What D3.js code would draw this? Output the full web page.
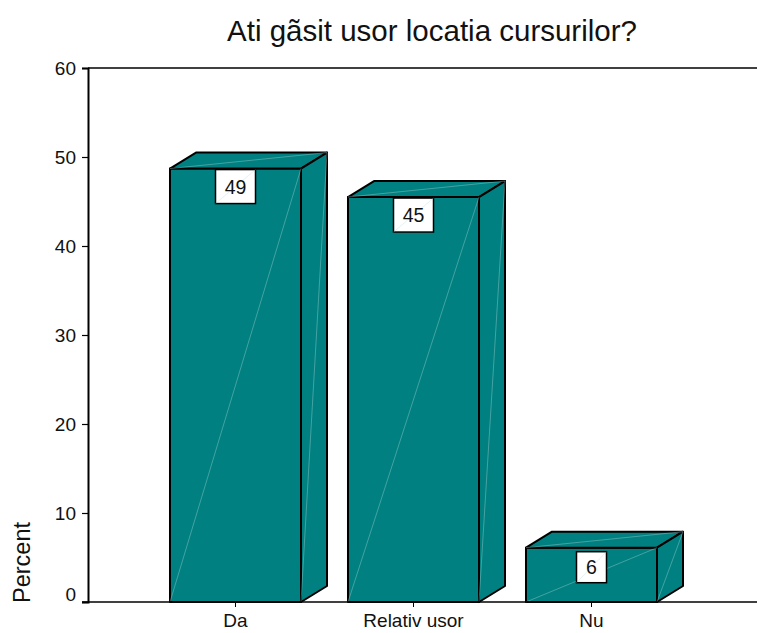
<!DOCTYPE html>
<html>
<head>
<meta charset="utf-8">
<style>
    body { margin: 0; background: #fff; }
    text { font-family: "Liberation Sans", Arial, sans-serif; fill: #111; }
    .axis path, .axis line { stroke: #000; }
</style>
</head>
<body>
<svg width="757" height="633"></svg>
<script src="https://d3js.org/d3.v7.min.js"></script>
<script>
    const categories = ["Da", "Relativ usor", "Nu"];
    const percents = [48.7, 45.5, 6.1];
    const labels = ["49", "45", "6"];
    const yTicks = [0, 10, 20, 30, 40, 50, 60];

    const svg = d3.select("svg"),
        depthX = 26,
        depthY = 16;

    const x = d3.scaleBand()
        .domain(categories)
        .range([146.5, 680.5])
        .paddingInner(0.264)
        .paddingOuter(0.132);

    const y = d3.scaleLinear()
        .domain([0, 60])
        .range([602, 68]);

    const teal = "#008080";
    const hi = "#b5dcdc"; // thin light diagonals left by the 3D facets

    const bars = svg.selectAll("g.bar")
        .data(categories)
        .enter()
        .append("g")
        .attr("class", "bar");

    function facet(sel, pts) {
        sel.append("path")
            .attr("d", d3.line()(pts) + "Z")
            .attr("fill", teal)
            .attr("stroke", "#000")
            .attr("stroke-width", 2)
            .attr("stroke-linejoin", "round");
    }

    function diag(sel, a, b) {
        sel.append("line")
            .attr("x1", a[0]).attr("y1", a[1])
            .attr("x2", b[0]).attr("y2", b[1])
            .attr("stroke", hi)
            .attr("stroke-width", 0.5)
            .attr("stroke-opacity", 0.75);
    }

    bars.each(function (d, i) {
        const g = d3.select(this),
            x0 = x(d),
            x1 = x0 + x.bandwidth(),
            top = y(percents[i]),
            base = y(0);

        // front, top, side
        facet(g, [[x0, base], [x0, top], [x1, top], [x1, base]]);
        facet(g, [[x0, top], [x0 + depthX, top - depthY], [x1 + depthX, top - depthY], [x1, top]]);
        facet(g, [[x1, base], [x1, top], [x1 + depthX, top - depthY], [x1 + depthX, base - depthY]]);

        diag(g, [x0, base], [x1, top]);
        diag(g, [x0, top], [x1 + depthX, top - depthY]);
        diag(g, [x1, base], [x1 + depthX, top - depthY]);

        // value label box hangs just under the front edge
        const cx = x0 + x.bandwidth() / 2,
            w = labels[i].length > 1 ? 40 : 30,
            h = labels[i].length > 1 ? 34 : 31,
            by = i === 2 ? top + 4 : top + 1;

        g.append("rect")
            .attr("x", cx - w / 2)
            .attr("y", by)
            .attr("width", w)
            .attr("height", h)
            .attr("fill", "#fff")
            .attr("stroke", "#000")
            .attr("stroke-width", 1.5);

        // the facet diagonal shows through the white box
        diag(g, [cx - w / 2, by + h], [cx + w / 2, by]);

        g.append("text")
            .attr("x", cx)
            .attr("y", by + h / 2 + 7)
            .attr("text-anchor", "middle")
            .attr("font-size", 19.5)
            .text(labels[i]);
    });

    const yAxis = d3.axisLeft(y)
        .tickValues(yTicks)
        .tickSize(6)
        .tickPadding(6)
        .tickFormat(d3.format("d"));

    const gy = svg.append("g")
        .attr("class", "axis")
        .attr("transform", "translate(88,0)")
        .call(yAxis);
    gy.select(".domain").attr("stroke-width", 2);
    gy.selectAll(".tick line").attr("stroke-width", 1.2);
    gy.selectAll(".tick text")
        .attr("font-size", 19)
        .attr("font-family", null)
        .attr("dy", d => d === 0 ? "-0.1em" : "0.32em");

    // top frame line and baseline run on to the right edge
    svg.append("line")
        .attr("x1", 88).attr("x2", 757)
        .attr("y1", y(60)).attr("y2", y(60))
        .attr("stroke", "#000").attr("stroke-width", 1.5);

    const xAxis = d3.axisBottom(x)
        .tickSize(5)
        .tickPadding(7);

    const gx = svg.append("g")
        .attr("class", "axis")
        .attr("transform", "translate(0," + y(0) + ")")
        .call(xAxis);
    gx.select(".domain").remove();
    gx.selectAll(".tick text").attr("font-size", 19).attr("font-family", null);

    svg.append("line")
        .attr("x1", 82).attr("x2", 757)
        .attr("y1", y(0)).attr("y2", y(0))
        .attr("stroke", "#000").attr("stroke-width", 1.5);

    svg.append("text")
        .attr("x", 432)
        .attr("y", 41)
        .attr("text-anchor", "middle")
        .attr("font-size", 29.5)
        .text("Ati gãsit usor locatia cursurilor?");

    svg.append("text")
        .attr("transform", "translate(30,603) rotate(-90)")
        .attr("font-size", 23.5)
        .text("Percent");
</script>
</body>
</html>
